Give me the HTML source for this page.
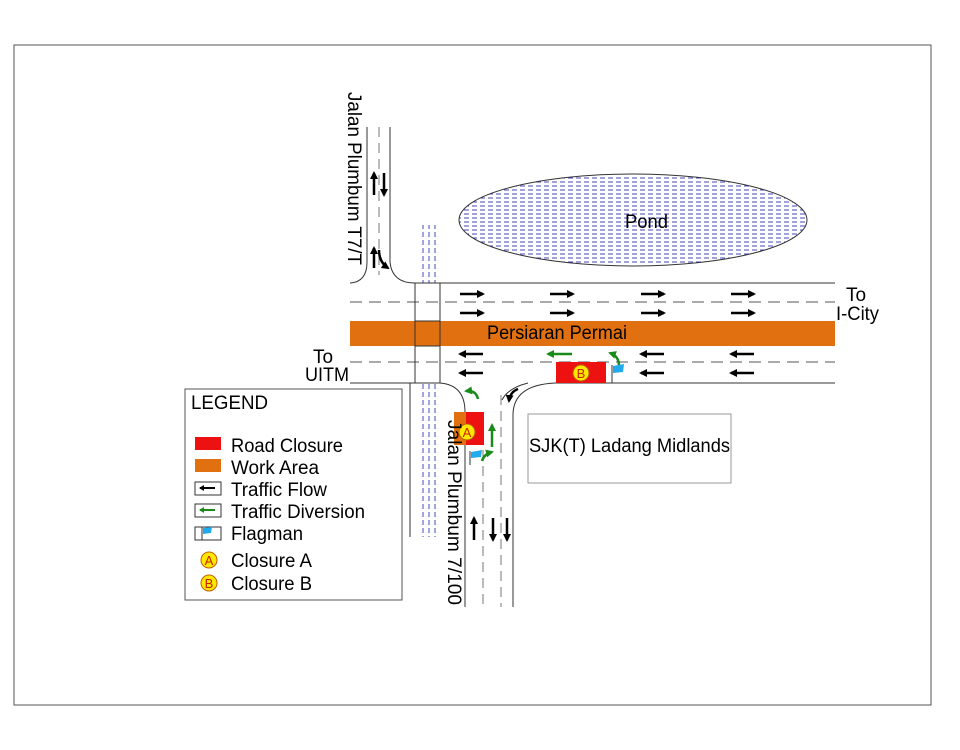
<!DOCTYPE html>
<html><head><meta charset="utf-8"><style>html,body{margin:0;padding:0;background:#fff}svg{display:block}text{font-family:"Liberation Sans",sans-serif}</style></head><body>
<svg width="960" height="750" viewBox="0 0 960 750" xmlns="http://www.w3.org/2000/svg">
<defs>
<pattern id="water" width="8" height="4" patternUnits="userSpaceOnUse"><line x1="0" y1="2" x2="5" y2="2" stroke="#4444bb" stroke-width="1"/></pattern>
<pattern id="vwater" width="6" height="8" patternUnits="userSpaceOnUse"><line x1="3" y1="0" x2="3" y2="5" stroke="#4444bb" stroke-width="1"/></pattern>
<marker id="ah" markerWidth="8" markerHeight="8" refX="6" refY="4" orient="auto" markerUnits="userSpaceOnUse"><path d="M0,0 L8,4 L0,8 Z" fill="#000"/></marker>
<marker id="ag" markerWidth="8" markerHeight="8" refX="6" refY="4" orient="auto" markerUnits="userSpaceOnUse"><path d="M0,0 L8,4 L0,8 Z" fill="#1a8a1a"/></marker>
</defs>
<rect x="14" y="45" width="917" height="660" fill="none" stroke="#555" stroke-width="1"/>
<ellipse cx="633" cy="220" rx="174" ry="46" fill="#fff"/>
<ellipse cx="633" cy="220" rx="174" ry="46" fill="url(#water)" stroke="#333" stroke-width="1"/>
<text x="625" y="228" font-size="19" textLength="43" lengthAdjust="spacingAndGlyphs">Pond</text>
<rect x="418" y="225" width="22" height="58" fill="url(#vwater)"/>
<rect x="418" y="383" width="22" height="154" fill="url(#vwater)"/>
<line x1="410" y1="383" x2="410" y2="537" stroke="#333"/>
<g stroke="#333" stroke-width="1" fill="none">
<line x1="415" y1="283" x2="835" y2="283"/>
<line x1="350" y1="383" x2="440" y2="383"/>
<line x1="555" y1="383" x2="835" y2="383"/>
<line x1="350" y1="302" x2="835" y2="302" stroke="#555" stroke-dasharray="12,7"/>
<line x1="350" y1="362" x2="835" y2="362" stroke="#555" stroke-dasharray="12,7"/>
<line x1="367" y1="127" x2="367" y2="262"/>
<path d="M367,262 Q367,282 350,283"/>
<line x1="390" y1="127" x2="390" y2="262"/>
<path d="M390,262 Q392,283 415,283"/>
<line x1="379" y1="127" x2="379" y2="275" stroke="#777" stroke-dasharray="10,6"/>
<path d="M440,383 Q465,385 465,412"/>
<line x1="465" y1="412" x2="465" y2="607"/>
<path d="M555,383 Q513,385 513,415"/>
<line x1="513" y1="415" x2="513" y2="607"/>
<line x1="483" y1="450" x2="483" y2="607" stroke="#777" stroke-dasharray="10,6"/>
<line x1="501" y1="395" x2="501" y2="607" stroke="#777" stroke-dasharray="10,6"/>
<path d="M528,383 Q508,388 502,400"/>
<rect x="415" y="283" width="25" height="100"/>
</g>
<rect x="350" y="321" width="485" height="25" fill="#e07010"/>
<rect x="415" y="321" width="25" height="25" fill="none" stroke="#333"/>
<text x="487" y="339" font-size="19" textLength="140" lengthAdjust="spacingAndGlyphs">Persiaran Permai</text>
<g stroke="#000" stroke-width="2.5" marker-end="url(#ah)">
<line x1="460" y1="294" x2="483" y2="294"/><line x1="550" y1="294" x2="573" y2="294"/><line x1="641" y1="294" x2="664" y2="294"/><line x1="731" y1="294" x2="754" y2="294"/>
<line x1="460" y1="313" x2="483" y2="313"/><line x1="550" y1="313" x2="573" y2="313"/><line x1="641" y1="313" x2="664" y2="313"/><line x1="731" y1="313" x2="754" y2="313"/>
<line x1="483" y1="354" x2="460" y2="354"/><line x1="664" y1="354" x2="641" y2="354"/><line x1="754" y1="354" x2="731" y2="354"/>
<line x1="483" y1="373" x2="460" y2="373"/><line x1="664" y1="373" x2="641" y2="373"/><line x1="754" y1="373" x2="731" y2="373"/>
<line x1="474" y1="540" x2="474" y2="518"/><line x1="493" y1="518" x2="493" y2="540"/><line x1="507" y1="518" x2="507" y2="540"/>
<line x1="374" y1="195" x2="374" y2="173"/><line x1="384" y1="173" x2="384" y2="195"/>
<line x1="374" y1="268" x2="374" y2="248"/>
<path d="M379,250 Q379,262 388,268" fill="none"/>
<path d="M518,389 Q510,392 509,401" fill="none"/>
</g>
<g stroke="#1a8a1a" stroke-width="2.5" marker-end="url(#ag)" fill="none">
<line x1="572" y1="354" x2="548" y2="354"/>
<line x1="492" y1="447" x2="492" y2="425"/>
<path d="M619,366 Q619,356 610,353"/>
<path d="M478,399 Q476,390 466,391"/>
<path d="M482,461 Q484,454 492,452"/>
</g>
<rect x="556" y="362" width="50" height="21" fill="#ee1111"/>
<circle cx="581" cy="373" r="8" fill="#ffe800" stroke="#c06000"/>
<text x="581" y="378" font-size="13" text-anchor="middle" fill="#cc2200">B</text>
<rect x="454" y="412" width="12" height="33" fill="#e07010"/>
<rect x="466" y="412" width="18" height="33" fill="#ee1111"/>
<circle cx="467" cy="432" r="8" fill="#ffe800" stroke="#c06000"/>
<text x="467" y="437" font-size="13" text-anchor="middle" fill="#cc2200">A</text>
<line x1="612" y1="365" x2="612" y2="383" stroke="#333"/><path d="M613,366 L624,364 L623,372 L613,373Z" fill="#22aaee"/>
<line x1="470" y1="451" x2="470" y2="465" stroke="#333"/><path d="M471,452 L482,450 L481,457 L471,458Z" fill="#22aaee"/>
<rect x="528" y="414" width="203" height="69" fill="none" stroke="#999"/>
<text x="529" y="452" font-size="19" textLength="201" lengthAdjust="spacingAndGlyphs">SJK(T) Ladang Midlands</text>
<g font-size="19">
<text x="846" y="301">To</text><text x="836" y="320" textLength="43" lengthAdjust="spacingAndGlyphs">I-City</text>
<text x="313" y="363">To</text><text x="305" y="381" textLength="44" lengthAdjust="spacingAndGlyphs">UITM</text>
<text transform="translate(348,92) rotate(90)" textLength="173" lengthAdjust="spacingAndGlyphs">Jalan Plumbum T7/T</text>
<text transform="translate(448,420) rotate(90)" textLength="185" lengthAdjust="spacingAndGlyphs">Jalan Plumbum 7/100</text>
</g>
<rect x="185" y="389" width="217" height="211" fill="#fff" stroke="#555"/>
<rect x="195" y="437" width="26" height="13" fill="#ee1111"/>
<rect x="195" y="459" width="26" height="13" fill="#e07010"/>
<rect x="195" y="482" width="26" height="13" fill="none" stroke="#333"/>
<line x1="215" y1="488" x2="200" y2="488" stroke="#000" stroke-width="2"/><path d="M199,488 L204,485 L204,491Z" fill="#000"/>
<rect x="195" y="504" width="26" height="13" fill="none" stroke="#333"/>
<line x1="215" y1="510" x2="200" y2="510" stroke="#1a8a1a" stroke-width="2"/><path d="M199,510 L204,507 L204,513Z" fill="#1a8a1a"/>
<rect x="195" y="527" width="26" height="13" fill="none" stroke="#333"/>
<line x1="202" y1="527" x2="202" y2="540" stroke="#333"/><path d="M203,528 L212,527 L211,533 L203,534Z" fill="#22aaee"/>
<circle cx="209" cy="560" r="8" fill="#ffe800" stroke="#c06000"/><text x="209" y="565" font-size="13" text-anchor="middle" fill="#cc2200">A</text>
<circle cx="209" cy="583" r="8" fill="#ffe800" stroke="#c06000"/><text x="209" y="588" font-size="13" text-anchor="middle" fill="#cc2200">B</text>
<g font-size="19">
<text x="191" y="409" textLength="77" lengthAdjust="spacingAndGlyphs">LEGEND</text>
<text x="231" y="452" textLength="112" lengthAdjust="spacingAndGlyphs">Road Closure</text>
<text x="231" y="474" textLength="88" lengthAdjust="spacingAndGlyphs">Work Area</text>
<text x="231" y="496" textLength="96" lengthAdjust="spacingAndGlyphs">Traffic Flow</text>
<text x="231" y="518" textLength="134" lengthAdjust="spacingAndGlyphs">Traffic Diversion</text>
<text x="231" y="540" textLength="72" lengthAdjust="spacingAndGlyphs">Flagman</text>
<text x="231" y="567" textLength="81" lengthAdjust="spacingAndGlyphs">Closure A</text>
<text x="231" y="590" textLength="81" lengthAdjust="spacingAndGlyphs">Closure B</text>
</g>
</svg>
</body></html>
